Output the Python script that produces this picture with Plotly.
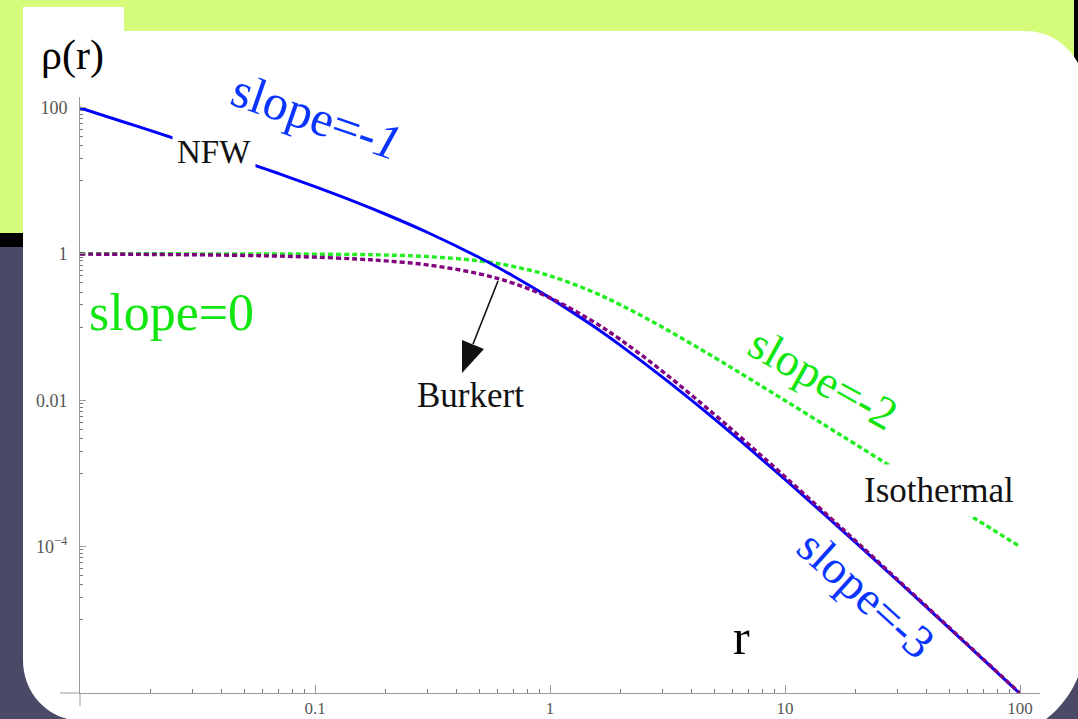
import plotly.graph_objects as go

# ---------------- data ----------------
r = [0.01, 0.015, 0.02, 0.03, 0.05, 0.07, 0.1, 0.15, 0.2, 0.3, 0.5, 0.7,
     1, 1.5, 2, 3, 5, 7, 10, 15, 20, 30, 50, 70, 100]
rho_nfw = [98.0, 64.7, 48.1, 31.4, 18.1, 12.5, 8.26, 5.04, 3.47, 1.97, 0.889, 0.494,
           0.25, 0.107, 0.0556, 0.0208, 0.00556, 0.00223, 8.26e-4, 2.60e-4, 1.13e-4,
           3.47e-5, 7.69e-6, 2.83e-6, 9.8e-7]
rho_burkert = [0.990, 0.985, 0.980, 0.970, 0.950, 0.930, 0.900, 0.850, 0.801, 0.706,
               0.533, 0.395, 0.25, 0.123, 0.0667, 0.025, 0.00641, 0.0025, 9.0e-4,
               2.77e-4, 1.19e-4, 3.58e-5, 7.84e-6, 2.87e-6, 9.9e-7]
rho_iso = [1.0, 1.0, 0.9996, 0.9991, 0.9975, 0.9951, 0.990, 0.978, 0.962, 0.917,
           0.800, 0.671, 0.5, 0.308, 0.2, 0.1, 0.0385, 0.02, 0.0099, 0.00442,
           0.00249, 0.0011, 4.0e-4, 2.04e-4, 1.0e-4]

x_major = [0.1, 1, 10, 100]
x_major_text = ["0.1", "1", "10", "100"]
y_major = [1e-4, 0.01, 1, 100]
y_major_text = ["10<sup>−4</sup>", "0.01", "1", "100"]

# ---------------- layout geometry ----------------
W, H = 1078, 719
L, R, T, B = 80, 38, 97, 26
PW, PH = W - L - R, H - T - B


def px(x):
    return (x - L) / PW


def py(y):
    return (H - B - y) / PH


def path(points_cmds, close=True):
    out = []
    for cmd, pts in points_cmds:
        s = cmd
        for (a, b) in pts:
            s += " %.5f,%.5f" % (px(a), py(b))
        out.append(s)
    return " ".join(out) + (" Z" if close else "")


x_minor = [k * 10 ** e for e in range(-2, 2) for k in range(2, 10)]
y_minor = [M * k / 10 for M in y_major for k in range(1, 10)]

BLUE_LINE = "#0000ff"
PURPLE = "#800080"
GREEN_LINE = "#22ee22"
BLUE_TXT = "#0a35ff"
GREEN_TXT = "#11e611"
SERIF = "Liberation Serif, Times New Roman, serif"

fig = go.Figure()
fig.add_trace(go.Scatter(x=r, y=rho_iso, mode="lines", line_shape="spline",
                         line=dict(color=GREEN_LINE, width=3.4, dash="5px,3px"),
                         name="Isothermal"))
fig.add_trace(go.Scatter(x=r, y=rho_nfw, mode="lines", line_shape="spline",
                         line=dict(color=BLUE_LINE, width=3), name="NFW"))
fig.add_trace(go.Scatter(x=r, y=rho_burkert, mode="lines", line_shape="spline",
                         line=dict(color=PURPLE, width=3.4, dash="5px,3px"),
                         name="Burkert"))

# ---------------- slide background ----------------
shapes = [
    dict(type="rect", xref="paper", yref="paper", x0=px(0), x1=px(W), y0=py(0), y1=py(H),
         fillcolor="#4a4966", line_width=0, layer="below"),
    dict(type="rect", xref="paper", yref="paper", x0=px(0), x1=px(W), y0=py(0), y1=py(233),
         fillcolor="#d5fb7b", line_width=0, layer="below"),
    dict(type="rect", xref="paper", yref="paper", x0=px(0), x1=px(23), y0=py(233), y1=py(247),
         fillcolor="#000000", line_width=0, layer="below"),
    dict(type="rect", xref="paper", yref="paper", x0=px(1074), x1=px(W), y0=py(0), y1=py(80),
         fillcolor="#000000", line_width=0, layer="below"),
    dict(type="path", xref="paper", yref="paper", layer="below", fillcolor="#ffffff", line_width=0,
         path=path([("M", [(23, 7)]), ("L", [(124, 7)]), ("L", [(124, 31)]), ("L", [(1025, 31)]),
                    ("C", [(1058, 31), (1085, 58), (1085, 91)]), ("L", [(1085, 640)]),
                    ("C", [(1085, 695), (1040, 740), (985, 740)]), ("L", [(120, 740)]),
                    ("L", [(83, 721)]), ("C", [(49, 721), (23, 694), (23, 660)])])),
    # axis overhangs (Mathematica-style crossing axes)
    dict(type="line", xref="paper", yref="paper", x0=px(60), x1=px(80), y0=py(693), y1=py(693),
         line=dict(color="#9a9a9a", width=1)),
    dict(type="line", xref="paper", yref="paper", x0=px(80), x1=px(80), y0=py(693), y1=py(706),
         line=dict(color="#9a9a9a", width=1)),
    # Burkert pointer arrow
    dict(type="line", xref="paper", yref="paper", x0=px(498), y0=py(281), x1=px(473), y1=py(344),
         line=dict(color="#111111", width=1.6)),
    dict(type="path", xref="paper", yref="paper", fillcolor="#111111", line_width=0,
         path=path([("M", [(462, 373)]), ("L", [(484, 349)]), ("L", [(462, 340)])])),
]

ann = [
    dict(text="ρ(r)", x=px(72), y=py(55), font=dict(size=42, color="black", family=SERIF)),
    dict(text="slope=-<i>1</i>", x=px(316), y=py(116), textangle=19,
         font=dict(size=50, color=BLUE_TXT, family=SERIF)),
    dict(text="NFW", x=px(214), y=py(152), bgcolor="white", borderpad=4,
         font=dict(size=33, color="#111", family=SERIF)),
    dict(text="slope=0", x=px(171), y=py(312), font=dict(size=52, color=GREEN_TXT, family=SERIF)),
    dict(text="slope=-2", x=px(823), y=py(378), textangle=29,
         font=dict(size=46, color=GREEN_TXT, family=SERIF)),
    dict(text="slope=-3", x=px(866), y=py(594), textangle=42,
         font=dict(size=47, color=BLUE_TXT, family=SERIF)),
    dict(text="Isothermal", x=px(939), y=py(490), bgcolor="white", borderpad=6,
         font=dict(size=35, color="#111", family=SERIF)),
    dict(text="Burkert", x=px(470), y=py(395), font=dict(size=35, color="#111", family=SERIF)),
    dict(text="r", x=px(741), y=py(637), font=dict(size=50, color="black", family=SERIF)),
]
for a in ann:
    a.update(xref="paper", yref="paper", showarrow=False, xanchor="center", yanchor="middle")

fig.update_layout(
    width=W, height=H, autosize=False,
    margin=dict(l=L, r=R, t=T, b=B, pad=0),
    paper_bgcolor="#4a4966", plot_bgcolor="rgba(0,0,0,0)",
    showlegend=False, shapes=shapes, annotations=ann,
    xaxis=dict(type="log", range=[-2, -2 + PW / 235.0], showgrid=False, zeroline=False,
               automargin=False, showline=True, linecolor="#9a9a9a", linewidth=1,
               tickvals=x_major, ticktext=x_major_text, ticks="inside", ticklen=8,
               ticklabelstandoff=0,
               tickcolor="#9a9a9a", tickfont=dict(family=SERIF, size=17, color="#555"),
               minor=dict(tickvals=x_minor, ticks="inside", ticklen=4, tickcolor="#777")),
    yaxis=dict(type="log", range=[-6, -6 + PH / 73.2], showgrid=False, zeroline=False,
               automargin=False, showline=True, linecolor="#9a9a9a", linewidth=1,
               tickvals=y_major, ticktext=y_major_text, ticks="inside", ticklen=6,
               ticklabelstandoff=8,
               tickcolor="#9a9a9a", tickfont=dict(family=SERIF, size=18, color="#555"),
               minor=dict(tickvals=y_minor, ticks="inside", ticklen=3, tickcolor="#777")),
)

fig.write_html("out.html", config={"displayModeBar": False},
               post_script="document.body.style.margin='0';document.body.style.overflow='hidden';")
